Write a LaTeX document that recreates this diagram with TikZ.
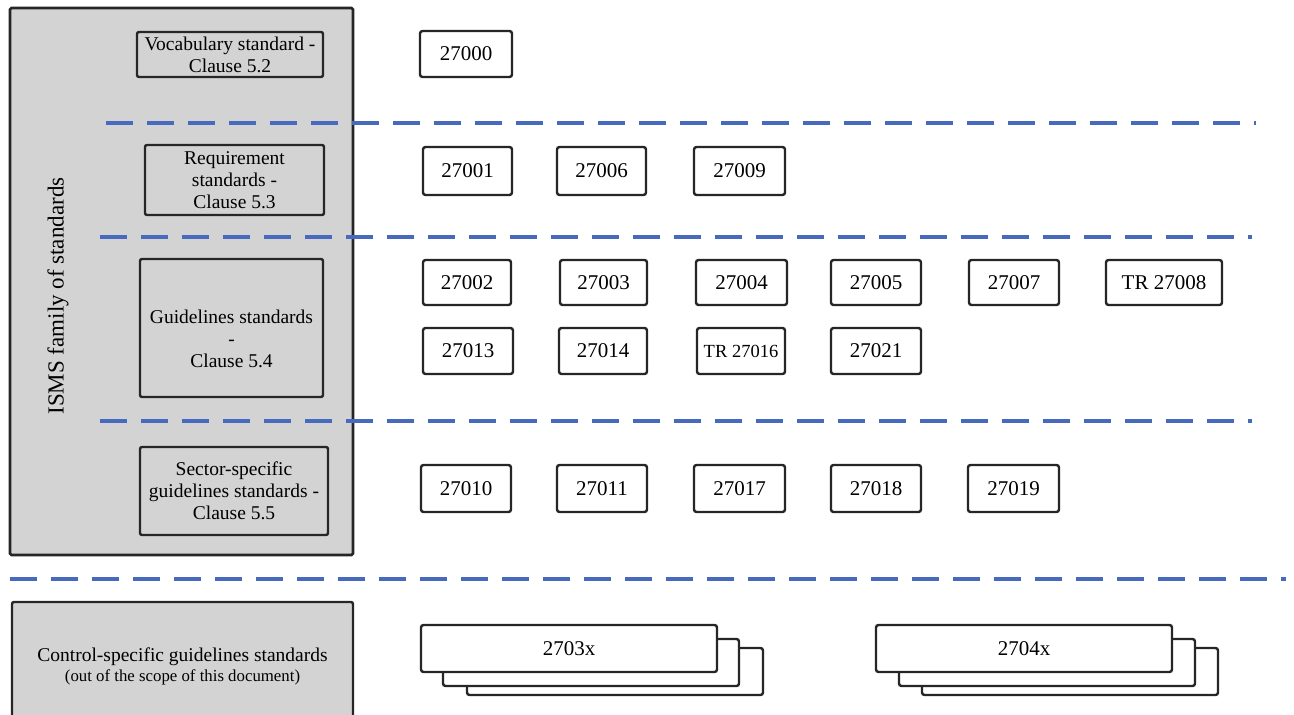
\documentclass[tikz,border=0pt]{standalone}
\usepackage{fontspec}
\setmainfont{Liberation Serif}
\definecolor{bgc}{RGB}{211,211,211}
\definecolor{boxc}{RGB}{38,38,38}
\definecolor{dashc}{RGB}{72,106,190}
\tikzset{
  lbl/.style={draw=boxc, line width=2.4pt, rounded corners=2pt, fill=bgc, align=center, inner sep=0pt, font=\fontsize{19.5}{22}\selectfont},
  num/.style={draw=boxc, line width=2.4pt, rounded corners=2.5pt, fill=white, inner sep=0pt, font=\fontsize{21}{24}\selectfont},
  sep/.style={draw=dashc, line width=3.5pt, dash pattern=on 27pt off 14pt},
  stackbox/.style={num, minimum width=296pt, minimum height=47pt},
  rowa/.style={num, minimum width=89pt, minimum height=48pt},
  rowb/.style={num, minimum width=89pt, minimum height=45pt},
}
\begin{document}
\begin{tikzpicture}[x=1pt,y=-1pt]
\clip (0,0) rectangle (1294,715);
\fill[white] (0,0) rectangle (1294,715);
% big ISMS box
\node (isms) [draw=boxc, line width=2.6pt, rounded corners=1.5pt, fill=bgc, minimum width=343pt, minimum height=547pt, inner sep=0pt] at (181.5,281.5) {};
\node (ismslbl) [rotate=90, font=\fontsize{23}{27}\selectfont] at (58,296) {ISMS family of standards};
% left labels
\node (voc) [lbl, minimum width=186pt, minimum height=45pt] at (230,54.5) {Vocabulary standard -\\Clause 5.2};
\node (req) [lbl, minimum width=179pt, minimum height=70pt] at (234.5,180) {Requirement\\standards -\\Clause 5.3};
\node (gui) [lbl, minimum width=183pt, minimum height=138pt] at (231.5,328) {};
\node (guit) [font=\fontsize{19.5}{22}\selectfont, align=center, inner sep=0pt] at (231.5,339) {Guidelines standards\\-\\Clause 5.4};
\node (sec) [lbl, minimum width=188pt, minimum height=88pt] at (234,491) {Sector-specific\\guidelines standards -\\Clause 5.5};
\node (ctl) [lbl, minimum width=341pt, minimum height=120pt] at (182.5,662) {};
\node (ctlt) [align=center, inner sep=0pt, font=\fontsize{19.5}{22}\selectfont] at (182.5,666) {Control-specific guidelines standards\\[-2pt]{\fontsize{16.8}{18}\selectfont (out of the scope of this document)}};
% dashed separators
\coordinate (d1a) at (106,123); \coordinate (d1b) at (1256,123);
\coordinate (d2a) at (100,237); \coordinate (d2b) at (1252,237);
\coordinate (d3a) at (100,421); \coordinate (d3b) at (1252,421);
\coordinate (d4a) at (10,579);  \coordinate (d4b) at (1286,579);
\draw[sep] (d1a) -- (d1b);
\draw[sep] (d2a) -- (d2b);
\draw[sep] (d3a) -- (d3b);
\draw[sep] (d4a) -- (d4b);
% number boxes
\node (n27000) [num, minimum width=92pt, minimum height=46pt] at (466,54) {27000};
\node (n27001) [rowa] at (467.5,171) {27001};
\node (n27006) [rowa] at (601.5,171) {27006};
\node (n27009) [rowa, minimum width=91pt] at (739.5,171) {27009};
\node (n27002) [rowb, minimum width=88pt] at (467,282.5) {27002};
\node (n27003) [rowb, minimum width=87pt] at (603.5,282.5) {27003};
\node (n27004) [rowb, minimum width=91pt] at (741.5,282.5) {27004};
\node (n27005) [rowb, minimum width=90pt] at (876,282.5) {27005};
\node (n27007) [rowb, minimum width=90pt] at (1014,282.5) {27007};
\node (n27008) [rowb, minimum width=116pt] at (1164,282.5) {TR 27008};
\node (n27013) [rowb, minimum width=90pt, minimum height=46pt] at (468,351) {27013};
\node (n27014) [rowb, minimum width=88pt, minimum height=46pt] at (603,351) {27014};
\node (n27016) [rowb, minimum width=88pt, minimum height=46pt, font=\fontsize{18.5}{22}\selectfont] at (741,351) {TR 27016};
\node (n27021) [rowb, minimum width=90pt, minimum height=46pt] at (876,351) {27021};
\node (n27010) [rowb, minimum width=90pt, minimum height=47pt] at (466,488.5) {27010};
\node (n27011) [rowb, minimum width=90pt, minimum height=47pt] at (602,488.5) {27011};
\node (n27017) [rowb, minimum width=91pt, minimum height=47pt] at (739.5,488.5) {27017};
\node (n27018) [rowb, minimum width=90pt, minimum height=47pt] at (876,488.5) {27018};
\node (n27019) [rowb, minimum width=91pt, minimum height=47pt] at (1013.5,488.5) {27019};
% stacked boxes
\node (s3c) [stackbox] at (615,671.5) {};
\node (s3b) [stackbox] at (591,662.5) {};
\node (s3a) [stackbox] at (569,648.5) {2703x};
\node (s4c) [stackbox] at (1070,671.5) {};
\node (s4b) [stackbox] at (1047,662.5) {};
\node (s4a) [stackbox] at (1024,648.5) {2704x};
\end{tikzpicture}
\end{document}
